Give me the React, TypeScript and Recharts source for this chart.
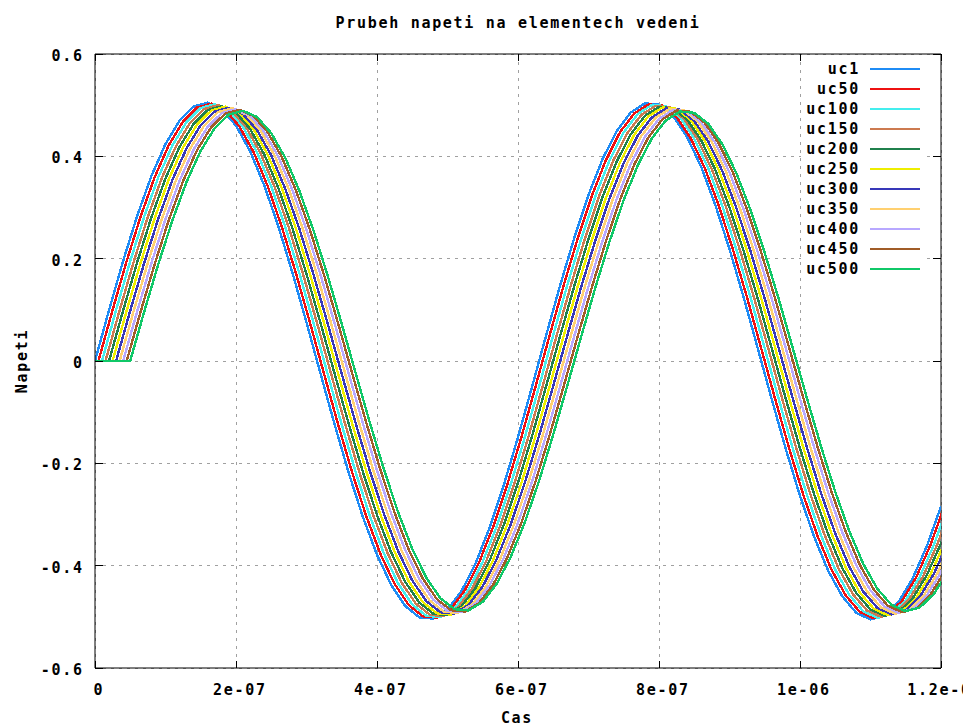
import { LineChart, Line, XAxis, YAxis, CartesianGrid, ReferenceLine, Legend } from "recharts";

// element voltages sampled from the plot
const SERIES_NAMES = ["uc1", "uc50", "uc100", "uc150", "uc200", "uc250", "uc300", "uc350", "uc400", "uc450", "uc500"];
const SERIES_COLORS = [
  "#1f8cf5", "#ee1111", "#44eeee", "#cc7a50", "#20804c", "#eeee00",
  "#3838b8", "#ffd070", "#b8a8ff", "#a05c28", "#10c868",
];
// start delay of each element (s)
const DELAYS = [0, 4.9e-9, 9.9e-9, 1.49e-8, 1.99e-8, 2.49e-8, 2.99e-8, 3.49e-8, 3.99e-8, 4.49e-8, 4.99e-8];
// peak voltage of each element
const PEAKS = [0.505, 0.503, 0.502, 0.5, 0.498, 0.497, 0.495, 0.494, 0.492, 0.491, 0.489];
// uc1 waveform shape, one sample every 2e-8 s, relative to its peak
const SAMPLE_STEP = 2e-8;
const WAVE = [
  0, 0.198, 0.388, 0.563, 0.716, 0.84, 0.931, 0.985, 1.0, 0.975,
  0.911, 0.812, 0.68, 0.522, 0.342, 0.149, -0.05, -0.247, -0.434, -0.604,
  -0.75, -0.866, -0.948, -0.992, -0.997, -0.963, -0.89, -0.782, -0.643, -0.479,
  -0.295, -0.099, 0.1, 0.295, 0.478, 0.643, 0.782, 0.89, 0.962, 0.997,
  0.992, 0.948, 0.866, 0.75, 0.603, 0.433, 0.247, 0.05, -0.149, -0.342,
  -0.522, -0.68, -0.812, -0.911, -0.975, -1.0, -0.985, -0.931, -0.84, -0.716,
  -0.563,
];

const X_TICKS = [0, 2e-7, 4e-7, 6e-7, 8e-7, 1e-6, 1.2e-6];
const X_LABELS = ["0", "2e-07", "4e-07", "6e-07", "8e-07", "1e-06", "1.2e-06"];
const Y_TICKS = [-0.6, -0.4, -0.2, 0, 0.2, 0.4, 0.6];
const Y_LABELS = ["-0.6", "-0.4", "-0.2", "0", "0.2", "0.4", "0.6"];

const W = 963;
const H = 727;
const PLOT_LEFT = 95;
const PLOT_TOP = 54;
const PLOT_W = 846;
const PLOT_H = 614;

const FONT = {
  fontFamily: "'DejaVu Sans Mono', monospace",
  fontWeight: 700,
  fontSize: 15,
  letterSpacing: 1.7,
  fill: "#000",
  color: "#000",
};

const series = SERIES_NAMES.map((name, s) => {
  const pts: { t: number; v: number }[] = [];
  if (DELAYS[s] > 0) pts.push({ t: 0, v: 0 });
  WAVE.forEach((w, k) => pts.push({ t: k * SAMPLE_STEP + DELAYS[s], v: w * PEAKS[s] }));
  return { name, color: SERIES_COLORS[s], data: pts };
});

function labelOf(ticks: number[], labels: string[], value: number) {
  let best = 0;
  ticks.forEach((t, i) => {
    if (Math.abs(t - value) < Math.abs(ticks[best] - value)) best = i;
  });
  return labels[best];
}

function XTick(props: any) {
  const { x, y, payload } = props;
  return (
    <g>
      <line x1={x} x2={x} y1={y} y2={y - 7} stroke="#000" shapeRendering="crispEdges" />
      <line x1={x} x2={x} y1={y - PLOT_H} y2={y - PLOT_H + 7} stroke="#000" shapeRendering="crispEdges" />
      <text x={x + 3.8} y={y + 26.5} textAnchor="middle" style={FONT}>
        {labelOf(X_TICKS, X_LABELS, payload.value)}
      </text>
    </g>
  );
}

function YTick(props: any) {
  const { x, y, payload } = props;
  return (
    <g>
      <line x1={x} x2={x + 8} y1={y} y2={y} stroke="#000" shapeRendering="crispEdges" />
      <line x1={x + PLOT_W} x2={x + PLOT_W - 8} y1={y} y2={y} stroke="#000" shapeRendering="crispEdges" />
      <text x={x - 11.3} y={y + 7} textAnchor="end" style={FONT}>
        {labelOf(Y_TICKS, Y_LABELS, payload.value)}
      </text>
    </g>
  );
}

function YTitle(props: any) {
  const vb = props.viewBox;
  const cx = vb.x + 21.5;
  const cy = vb.y + vb.height / 2;
  return (
    <text x={cx} y={cy} transform={`rotate(-90 ${cx} ${cy})`} textAnchor="middle" dominantBaseline="central" style={FONT}>
      Napeti
    </text>
  );
}

function XTitle(props: any) {
  const vb = props.viewBox;
  return (
    <text x={vb.x + vb.width / 2 - 1} y={vb.y + 55} textAnchor="middle" style={FONT}>
      Cas
    </text>
  );
}

function KeyBox(props: any) {
  const items = [...(props.payload || [])].sort(
    (a: any, b: any) => SERIES_NAMES.indexOf(a.value) - SERIES_NAMES.indexOf(b.value)
  );
  return (
    <div style={{ background: "#fff", width: 125 }}>
      {items.map((e: any) => (
        <div key={e.value} style={{ height: 20, display: "flex", alignItems: "center" }}>
          <span style={{ ...FONT, width: 59, textAlign: "right", display: "inline-block", lineHeight: "20px" }}>
            {e.value}
          </span>
          <span style={{ marginLeft: 10, width: 50, height: 1.5, background: e.color, display: "inline-block" }} />
        </div>
      ))}
    </div>
  );
}

export default function App() {
  return (
    <div style={{ position: "absolute", left: 0, top: 0, width: W, height: H, background: "#fff" }}>
      <style>{`.recharts-line-curve{shape-rendering:crispEdges}.recharts-cartesian-grid line{shape-rendering:crispEdges}`}</style>
      <div
        style={{
          ...FONT,
          position: "absolute",
          left: PLOT_LEFT,
          width: PLOT_W,
          top: 16,
          lineHeight: "15px",
          textAlign: "center",
          zIndex: 2,
        }}
      >
        Prubeh napeti na elementech vedeni
      </div>
      <LineChart width={W} height={H} margin={{ top: PLOT_TOP, right: 22, bottom: 29, left: 0 }}>
        <CartesianGrid stroke="#a0a0a0" strokeDasharray="3 5" />
        <XAxis
          type="number"
          dataKey="t"
          domain={[0, 1.2e-6]}
          ticks={X_TICKS}
          interval={0}
          allowDataOverflow
          height={30}
          tickSize={0}
          tickMargin={0}
          tickLine={false}
          axisLine={{ stroke: "#000" }}
          tick={<XTick />}
          label={{ value: "Cas", content: XTitle }}
        />
        <YAxis
          type="number"
          domain={[-0.6, 0.6]}
          ticks={Y_TICKS}
          interval={0}
          allowDataOverflow
          width={PLOT_LEFT}
          tickSize={0}
          tickMargin={0}
          tickLine={false}
          axisLine={{ stroke: "#000" }}
          tick={<YTick />}
          label={{ value: "Napeti", content: YTitle }}
        />
        <ReferenceLine y={0.6} stroke="#000" />
        <ReferenceLine x={1.2e-6} stroke="#000" />
        {series.map((s) => (
          <Line
            key={s.name}
            name={s.name}
            data={s.data}
            dataKey="v"
            type="linear"
            stroke={s.color}
            strokeWidth={2.4}
            dot={false}
            activeDot={false}
            isAnimationActive={false}
          />
        ))}
        <Legend
          layout="vertical"
          align="center"
          verticalAlign="middle"
          wrapperStyle={{ left: 801, top: 59, width: 125 }}
          content={KeyBox}
        />
      </LineChart>
    </div>
  );
}
